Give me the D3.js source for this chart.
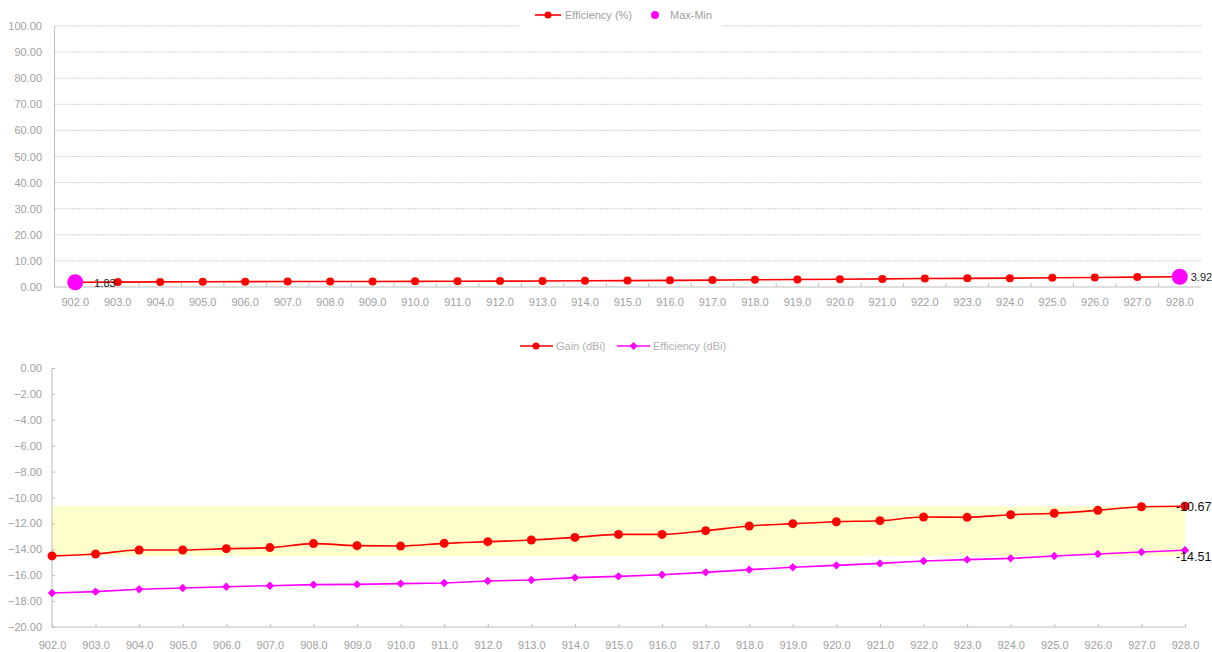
<!DOCTYPE html>
<html><head><meta charset="utf-8">
<script src="https://cdn.jsdelivr.net/npm/d3@7/dist/d3.min.js"></script>
<style>
body{margin:0;background:#fff;}
svg{display:block;font-family:"Liberation Sans",Arial,sans-serif;}
</style></head><body>
<svg id="c" width="1212" height="652"></svg>
<script>
const freqs = [902,903,904,905,906,907,908,909,910,911,912,913,914,915,916,917,918,919,920,921,922,923,924,925,926,927,928];
const effPct = [1.83,1.87,1.95,2.00,2.05,2.08,2.12,2.13,2.16,2.19,2.26,2.31,2.40,2.46,2.54,2.64,2.77,2.89,2.99,3.10,3.24,3.31,3.39,3.53,3.66,3.79,3.92];
const gainDbi = [-14.51,-14.36,-14.05,-14.05,-13.95,-13.87,-13.56,-13.72,-13.75,-13.54,-13.41,-13.28,-13.08,-12.85,-12.85,-12.56,-12.20,-12.02,-11.87,-11.79,-11.51,-11.53,-11.33,-11.22,-10.99,-10.71,-10.67];
const effDbi = [-17.38,-17.27,-17.09,-16.99,-16.89,-16.81,-16.73,-16.71,-16.65,-16.60,-16.45,-16.37,-16.19,-16.09,-15.96,-15.78,-15.57,-15.39,-15.24,-15.09,-14.90,-14.80,-14.70,-14.52,-14.36,-14.21,-14.07];
const topTicks = [0,10,20,30,40,50,60,70,80,90,100];
const botTicks = [0,-2,-4,-6,-8,-10,-12,-14,-16,-18,-20];

const svg = d3.select("#c");
const axisCol = "#bdbdbd", txtCol = "#a0a0a0";

// ---------- TOP CHART ----------
const tx = d3.scaleBand().domain(freqs).range([54,1201]);
const ty = d3.scaleLinear().domain([0,100]).range([287,26]);
const gTop = svg.append("g");
gTop.selectAll("line.g").data(topTicks.filter(d=>d>0)).join("line")
  .attr("x1",54).attr("x2",1201).attr("y1",d=>ty(d)).attr("y2",d=>ty(d))
  .attr("stroke","#d0d0d0").attr("stroke-dasharray","2,1").attr("stroke-width",1);
const tya = gTop.append("g").attr("transform","translate(54,0)")
  .call(d3.axisLeft(ty).tickValues(topTicks).tickFormat(d3.format(".2f")).tickSize(0).tickPadding(12));
tya.select(".domain").attr("stroke",axisCol);
tya.selectAll("text").attr("fill",txtCol).attr("font-size",11).attr("font-family","Liberation Sans, Arial");
const txa = gTop.append("g").attr("transform","translate(0,287)")
  .call(d3.axisBottom(tx).tickFormat(d=>d.toFixed(1)).tickSize(0).tickPadding(11));
txa.select(".domain").attr("stroke",axisCol).attr("d","M54,0H1201");
txa.selectAll("text").attr("fill",txtCol).attr("font-size",11).attr("font-family","Liberation Sans, Arial");
gTop.selectAll("line.bt").data(freqs.slice(1)).join("line")
  .attr("x1",d=>tx(d)).attr("x2",d=>tx(d)).attr("y1",283).attr("y2",287).attr("stroke",axisCol);
const tcx = d=>tx(d)+tx.bandwidth()/2;
gTop.append("path").datum(effPct)
  .attr("d",d3.line().x((d,i)=>tcx(freqs[i])).y(d=>ty(d)))
  .attr("fill","none").attr("stroke","#ff0000").attr("stroke-width",1.6);
gTop.selectAll("circle.p").data(effPct).join("circle")
  .attr("cx",(d,i)=>tcx(freqs[i])).attr("cy",d=>ty(d)).attr("r",4).attr("fill","#ff0000");
const mmIdx = [0, freqs.length-1];
gTop.selectAll("circle.mm").data(mmIdx).join("circle")
  .attr("cx",i=>tcx(freqs[i])).attr("cy",i=>ty(effPct[i])).attr("r",8).attr("fill","#ff00ff");
gTop.selectAll("text.mm").data(mmIdx).join("text")
  .attr("x",i=>tcx(freqs[i])+ (i===0?19:11)).attr("y",i=>ty(effPct[i])+0.5).attr("dy","0.35em")
  .attr("font-size",11).attr("fill","#222").text(i=>effPct[i].toFixed(2));
const lg1 = svg.append("g");
lg1.append("rect").attr("x",520).attr("y",4).attr("width",201).attr("height",23).attr("fill","#fff");
lg1.append("line").attr("x1",535).attr("x2",561).attr("y1",15).attr("y2",15).attr("stroke","#ff0000").attr("stroke-width",1.6);
lg1.append("circle").attr("cx",548).attr("cy",15).attr("r",3.5).attr("fill","#ff0000");
lg1.append("text").attr("x",565).attr("y",15).attr("dy","0.35em").attr("font-size",11).attr("fill",txtCol).text("Efficiency (%)");
lg1.append("circle").attr("cx",655).attr("cy",15).attr("r",4).attr("fill","#ff00ff");
lg1.append("text").attr("x",670).attr("y",15).attr("dy","0.35em").attr("font-size",11).attr("fill",txtCol).text("Max-Min");

// ---------- BOTTOM CHART ----------
const bx = d3.scalePoint().domain(freqs).range([52,1185]);
const by = d3.scaleLinear().domain([-20,0]).range([627,368]);
const gBot = svg.append("g");
const gMax = d3.max(gainDbi), gMin = d3.min(gainDbi);
gBot.append("rect").attr("x",52).attr("width",1185-52)
  .attr("y",by(gMax)).attr("height",by(gMin)-by(gMax)).attr("fill","#ffffcc");
const bya = gBot.append("g").attr("transform","translate(52,0)")
  .call(d3.axisLeft(by).tickValues(botTicks).tickFormat(d3.format(".2f")).tickSize(-3).tickPadding(10));
bya.select(".domain").attr("stroke",axisCol).attr("d","M0,368V627");
bya.selectAll(".tick line").attr("stroke",axisCol);
bya.selectAll("text").attr("fill",txtCol).attr("font-size",11).attr("font-family","Liberation Sans, Arial").attr("x",-10);
const bxa = gBot.append("g").attr("transform","translate(0,627)")
  .call(d3.axisBottom(bx).tickFormat(d=>d.toFixed(1)).tickSize(-3).tickPadding(11));
bxa.select(".domain").attr("stroke",axisCol).attr("d","M52,0H1185");
bxa.selectAll(".tick line").attr("stroke",axisCol);
bxa.selectAll("text").attr("fill",txtCol).attr("font-size",11).attr("font-family","Liberation Sans, Arial").attr("y",14);
gBot.append("path").datum(effDbi)
  .attr("d",d3.line().x((d,i)=>bx(freqs[i])).y(d=>by(d)))
  .attr("fill","none").attr("stroke","#ff00ff").attr("stroke-width",1.6);
gBot.selectAll("path.dm").data(effDbi).join("path")
  .attr("d",(d,i)=>{const x=bx(freqs[i]),y=by(d),s=4.2;return `M${x},${y-s}L${x+s},${y}L${x},${y+s}L${x-s},${y}Z`;})
  .attr("fill","#ff00ff");
gBot.append("path").datum(gainDbi)
  .attr("d",d3.line().curve(d3.curveMonotoneX).x((d,i)=>bx(freqs[i])).y(d=>by(d)))
  .attr("fill","none").attr("stroke","#ff0000").attr("stroke-width",1.6);
gBot.selectAll("circle.gp").data(gainDbi).join("circle")
  .attr("cx",(d,i)=>bx(freqs[i])).attr("cy",d=>by(d)).attr("r",4.5).attr("fill","#ff0000");
gBot.append("text").attr("x",1176).attr("y",by(gMax)).attr("dy","0.35em").attr("font-size",12.5).attr("fill","#111").text(gMax.toFixed(2));
gBot.append("text").attr("x",1176).attr("y",by(gMin)+1).attr("dy","0.35em").attr("font-size",12.5).attr("fill","#111").text(gMin.toFixed(2));
const lg2 = svg.append("g");
lg2.append("line").attr("x1",520).attr("x2",553).attr("y1",346).attr("y2",346).attr("stroke","#ff0000").attr("stroke-width",1.6);
lg2.append("circle").attr("cx",536).attr("cy",346).attr("r",3.5).attr("fill","#ff0000");
lg2.append("text").attr("x",556).attr("y",346).attr("dy","0.35em").attr("font-size",11).attr("fill","#b0b0b0").text("Gain (dBi)");
lg2.append("line").attr("x1",617).attr("x2",650).attr("y1",346).attr("y2",346).attr("stroke","#ff00ff").attr("stroke-width",1.6);
lg2.append("path").attr("d","M633.5,342L637.5,346L633.5,350L629.5,346Z").attr("fill","#ff00ff");
lg2.append("text").attr("x",653).attr("y",346).attr("dy","0.35em").attr("font-size",11).attr("fill","#b0b0b0").text("Efficiency (dBi)");
</script>
</body></html>
